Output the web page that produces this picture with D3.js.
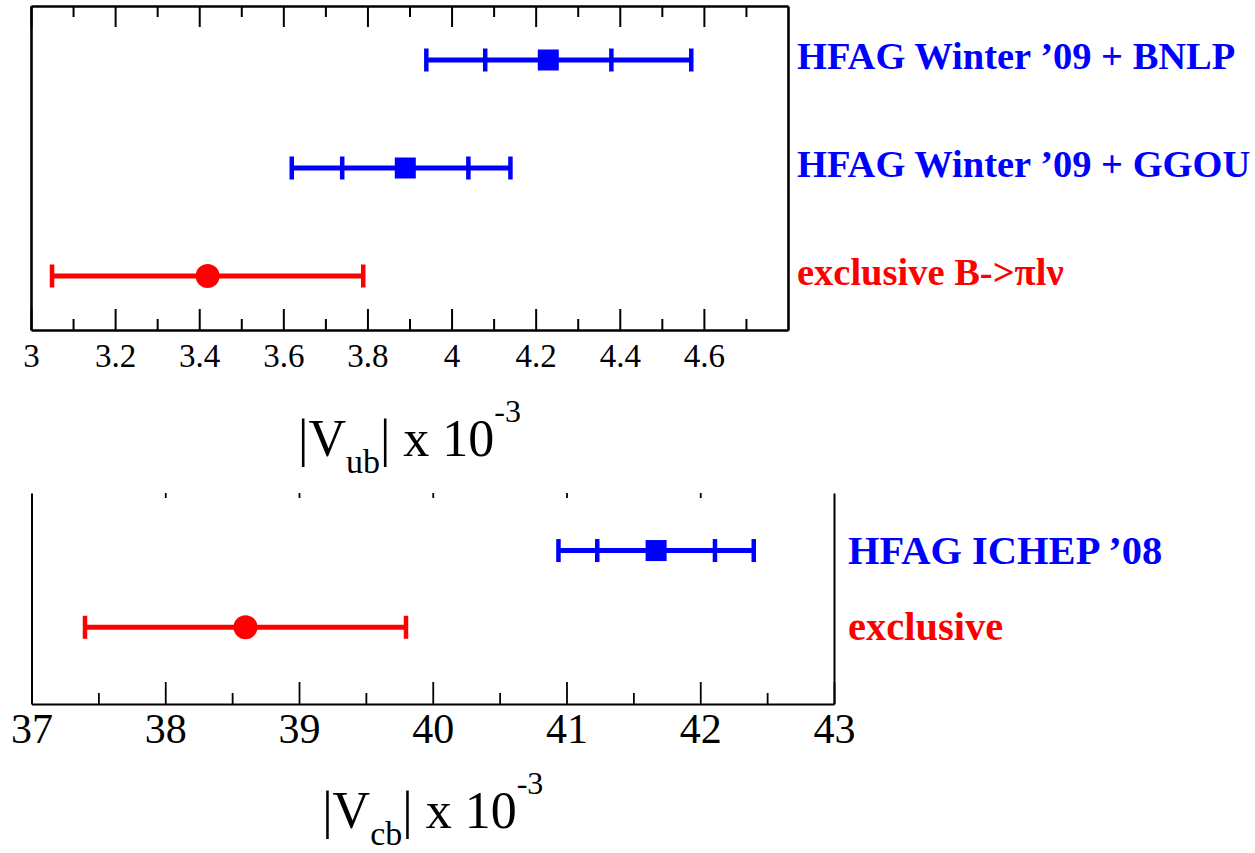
<!DOCTYPE html>
<html>
<head>
<meta charset="utf-8">
<script src="https://cdn.jsdelivr.net/npm/d3@7"></script>
<style>
  body { margin: 0; background: white; }
  svg { font-family: 'Liberation Serif', 'Times New Roman', serif; }
</style>
</head>
<body>
<svg id="chart" width="1255" height="853"></svg>
<script>

// |Vub| panel (x 10^-3)
const vub_labels = ['HFAG Winter \u201909 + BNLP', 'HFAG Winter \u201909 + GGOU', 'exclusive B->\u03C0l\u03BD'];
const vub_kind = ['inclusive', 'inclusive', 'exclusive'];
const vub_central = [4.23, 3.89, 3.42];
const vub_inner_lo = [4.08, 3.74, null];
const vub_inner_hi = [4.38, 4.04, null];
const vub_total_lo = [3.94, 3.62, 3.05];
const vub_total_hi = [4.57, 4.14, 3.79];
const vub_ticks = [3, 3.2, 3.4, 3.6, 3.8, 4, 4.2, 4.4, 4.6];
const vub_minor = [3.1, 3.3, 3.5, 3.7, 3.9, 4.1, 4.3, 4.5, 4.7];

// |Vcb| panel (x 10^-3)
const vcb_labels = ['HFAG ICHEP \u201908', 'exclusive'];
const vcb_kind = ['inclusive', 'exclusive'];
const vcb_central = [41.67, 38.6];
const vcb_inner_lo = [41.23, null];
const vcb_inner_hi = [42.11, null];
const vcb_total_lo = [40.94, 37.4];
const vcb_total_hi = [42.40, 39.8];
const vcb_ticks = [37, 38, 39, 40, 41, 42, 43];
const vcb_minor = [37.5, 38.5, 39.5, 40.5, 41.5, 42.5];
const vcb_top_ticks = [38, 39, 40, 41, 42];

const colors = {inclusive: 'rgb(0,0,255)', exclusive: 'rgb(255,0,0)'};
const serif = "'Liberation Serif', 'Times New Roman', serif";

class ErrorBarPanel
{
  constructor(opts)
  {
    this.o = opts;
    this.svg = d3.select('#chart').append('g').attr('id', opts.id);

    this.x = d3.scaleLinear().domain(opts.x_domain).range([opts.left, opts.right]);
    this.y = d3.scaleLinear().domain(opts.y_domain).range([opts.bottom, opts.top]);

    this.rows = opts.labels.map((l, i) => {
      return {
        label: l,
        kind: opts.kind[i],
        row: opts.labels.length - i,
        c: opts.central[i],
        ilo: opts.inner_lo[i],
        ihi: opts.inner_hi[i],
        tlo: opts.total_lo[i],
        thi: opts.total_hi[i]
      };
    });
  }

  draw_axes()
  {
    var o = this.o;

    // bottom axis with labels
    var bottom = this.svg.append('g')
        .attr('transform', 'translate(0,' + o.bottom + ')')
        .call(d3.axisBottom(this.x)
          .tickValues(o.ticks)
          .tickSizeInner(-o.major_len)
          .tickSizeOuter(0)
          .tickPadding(o.tick_padding)
          .tickFormat(d => String(d)));
    bottom.attr('font-family', serif).attr('font-size', o.tick_font);
    bottom.selectAll('text').attr('fill', 'black').style('font-family', serif);

    var bottom_minor = this.svg.append('g')
        .attr('transform', 'translate(0,' + o.bottom + ')')
        .call(d3.axisBottom(this.x)
          .tickValues(o.minor)
          .tickSizeInner(-o.minor_len)
          .tickSizeOuter(0)
          .tickFormat(''));
    bottom_minor.select('.domain').remove();

    // top ticks
    var top = this.svg.append('g')
        .attr('transform', 'translate(0,' + o.top + ')')
        .call(d3.axisTop(this.x)
          .tickValues(o.top_ticks)
          .tickSizeInner(-o.top_major_len)
          .tickSizeOuter(0)
          .tickFormat(''));
    if (!o.top_line) top.select('.domain').remove();

    if (o.top_minor)
    {
      var top_minor = this.svg.append('g')
          .attr('transform', 'translate(0,' + o.top + ')')
          .call(d3.axisTop(this.x)
            .tickValues(o.top_minor)
            .tickSizeInner(-o.minor_len)
            .tickSizeOuter(0)
            .tickFormat(''));
      top_minor.select('.domain').remove();
    }

    // side lines
    this.svg.append('g')
        .attr('transform', 'translate(' + o.left + ',0)')
        .call(d3.axisLeft(this.y).tickValues([]).tickSizeOuter(0));
    this.svg.append('g')
        .attr('transform', 'translate(' + o.right + ',0)')
        .call(d3.axisRight(this.y).tickValues([]).tickSizeOuter(0));

    this.svg.selectAll('.domain')
        .attr('stroke', 'black')
        .attr('stroke-width', o.frame_width);
    this.svg.selectAll('.tick line')
        .attr('stroke', 'black')
        .attr('stroke-width', o.tick_width);
  }

  draw_bars()
  {
    var cap = 23;

    var g = this.svg.selectAll('.' + this.o.id + '-bar')
        .data(this.rows)
        .enter()
        .append('g')
        .attr('class', this.o.id + '-bar');

    g.append('line')
        .attr('x1', d => this.x(d.tlo))
        .attr('x2', d => this.x(d.thi))
        .attr('y1', d => this.y(d.row))
        .attr('y2', d => this.y(d.row))
        .attr('stroke', d => colors[d.kind])
        .attr('stroke-width', 5);

    var ends = d => [d.tlo, d.thi, d.ilo, d.ihi].filter(v => v !== null).map(v => ({v: v, d: d}));

    g.selectAll('.cap')
        .data(d => ends(d))
        .enter()
        .append('line')
        .attr('class', 'cap')
        .attr('x1', e => this.x(e.v))
        .attr('x2', e => this.x(e.v))
        .attr('y1', e => this.y(e.d.row) - cap / 2)
        .attr('y2', e => this.y(e.d.row) + cap / 2)
        .attr('stroke', e => colors[e.d.kind])
        .attr('stroke-width', 4.5);

    g.filter(d => d.kind == 'inclusive')
        .append('rect')
        .attr('x', d => this.x(d.c) - 10.5)
        .attr('y', d => this.y(d.row) - 10.5)
        .attr('width', 21)
        .attr('height', 21)
        .attr('fill', d => colors[d.kind]);

    g.filter(d => d.kind == 'exclusive')
        .append('circle')
        .attr('cx', d => this.x(d.c))
        .attr('cy', d => this.y(d.row))
        .attr('r', 12)
        .attr('fill', d => colors[d.kind]);

    g.append('text')
        .attr('x', this.o.right + this.o.label_gap)
        .attr('y', d => this.y(d.row) + this.o.label_dy)
        .attr('font-size', this.o.label_font)
        .attr('font-weight', 'bold')
        .attr('fill', d => colors[d.kind])
        .text(d => d.label);
  }

  draw_title(sub, baseline)
  {
    var t = this.svg.append('text')
        .attr('x', (this.o.left + this.o.right) / 2)
        .attr('y', baseline)
        .attr('text-anchor', 'middle')
        .attr('font-size', 52)
        .attr('fill', 'black');
    t.append('tspan').text('|V');
    t.append('tspan').attr('font-size', 34).attr('dy', 17).text(sub);
    t.append('tspan').attr('dy', -17).text('| x 10');
    t.append('tspan').attr('font-size', 32).attr('dy', -34).text('-3');
  }
}

var vub_panel = new ErrorBarPanel({
  id: 'vub', left: 31, right: 788, top: 6, bottom: 330,
  x_domain: [3, 4.8], y_domain: [0.5, 3.5],
  labels: vub_labels, kind: vub_kind, central: vub_central,
  inner_lo: vub_inner_lo, inner_hi: vub_inner_hi, total_lo: vub_total_lo, total_hi: vub_total_hi,
  ticks: vub_ticks, minor: vub_minor, top_ticks: vub_ticks, top_minor: vub_minor, top_line: true,
  major_len: 21, minor_len: 11, top_major_len: 21,
  tick_font: 33, tick_padding: 14, frame_width: 2.6, tick_width: 2,
  label_gap: 9, label_dy: 9, label_font: 38.5
});
vub_panel.draw_axes();
vub_panel.draw_bars();
vub_panel.draw_title('ub', 456);

var vcb_panel = new ErrorBarPanel({
  id: 'vcb', left: 31.5, right: 834, top: 493, bottom: 704,
  x_domain: [37, 43], y_domain: [0, 2.75],
  labels: vcb_labels, kind: vcb_kind, central: vcb_central,
  inner_lo: vcb_inner_lo, inner_hi: vcb_inner_hi, total_lo: vcb_total_lo, total_hi: vcb_total_hi,
  ticks: vcb_ticks, minor: vcb_minor, top_ticks: vcb_top_ticks, top_minor: null, top_line: false,
  major_len: 22, minor_len: 11, top_major_len: 5,
  tick_font: 42, tick_padding: 9, frame_width: 2, tick_width: 1.8,
  label_gap: 14, label_dy: 13, label_font: 40.5
});
vcb_panel.draw_axes();
vcb_panel.draw_bars();
vcb_panel.draw_title('cb', 828);

</script>
</body>
</html>
